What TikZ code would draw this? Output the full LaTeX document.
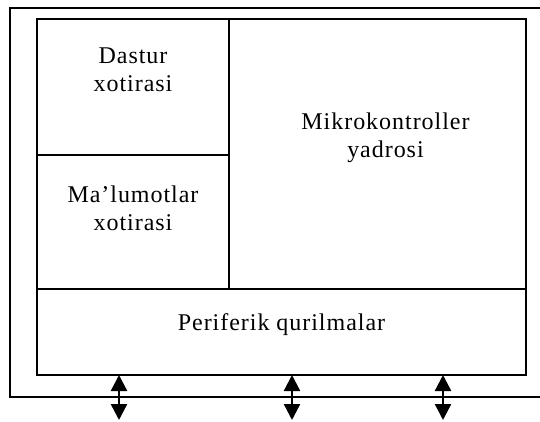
\documentclass[tikz,border=0pt]{standalone}
\usepackage{fontspec}
\setmainfont{Liberation Serif}
\newfontfamily\blockfont[LetterSpace=4]{Liberation Serif}
\usetikzlibrary{arrows.meta, positioning}

\begin{document}
\begin{tikzpicture}[x=1pt, y=-1pt,
    % Define styles
    block/.style={rectangle, draw=black, line width=2pt, fill=white, inner sep=0pt, outer sep=0pt},
    blocktext/.style={align=center, font=\blockfont\fontsize{24}{28}\selectfont},
    bus/.style={{Triangle[width=16pt, length=16pt]}-{Triangle[width=16pt, length=16pt]}, line width=2.4pt, draw=black}
]
    \useasboundingbox (0,0) rectangle (540,421);

    % 1. Outer frame (open on the right side)
    \draw[line width=2pt] (540,8) -- (10,8) -- (10,397) -- (540,397);

    % 2. Memories on the left
    \node[block, minimum width=192pt, minimum height=136pt, label={[blocktext, yshift=17pt]center:Dastur\\xotirasi}] (prog) at (133,87) {};
    \node[block, minimum width=192pt, minimum height=134pt, label={[blocktext, yshift=14pt]center:Ma’lumotlar\\xotirasi}] (data) at (133,222) {};

    % 3. The core
    \node[block, minimum width=297pt, minimum height=270pt, label={[blocktext, xshift=8pt, yshift=16pt]center:Mikrokontroller\\yadrosi}] (core) at (377.5,154) {};

    % 4. Peripherals along the bottom
    \node[block, minimum width=489pt, minimum height=86pt, label={[blocktext, yshift=7pt]center:Periferik qurilmalar}] (periph) at (281.5,332) {};

    % 5. Outside connections
    \coordinate (io1) at (119,420);
    \coordinate (io2) at (292,420);
    \coordinate (io3) at (443,420);
    \draw[bus] (periph.south -| io1) -- (io1);
    \draw[bus] (periph.south -| io2) -- (io2);
    \draw[bus] (periph.south -| io3) -- (io3);

\end{tikzpicture}
\end{document}
